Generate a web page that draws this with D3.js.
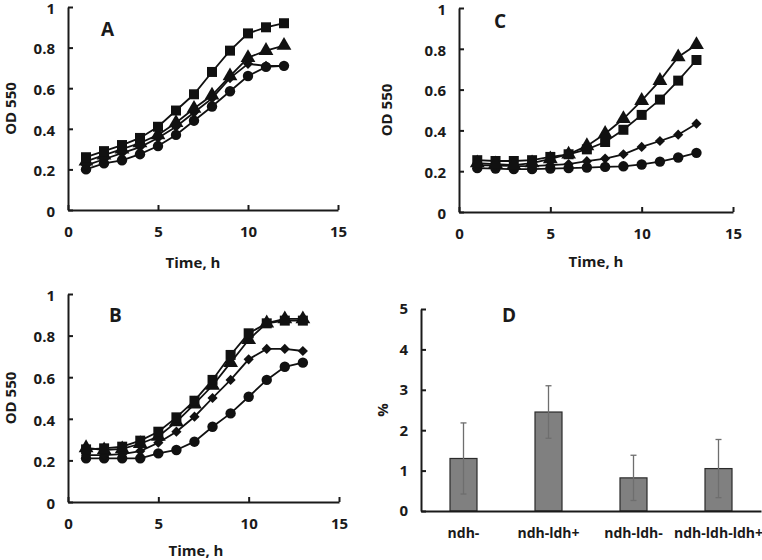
<!DOCTYPE html>
<html lang="en"><head>
<meta charset="utf-8">
<title>OD 550 growth</title>
<script src="https://cdn.jsdelivr.net/npm/d3@7"></script>
<style>
body { margin: 0; background: #fff; }
text { font-family: "Open Sans", sans-serif; font-weight: bold; fill: #1a1a1a; }
</style>
</head>
<body>
<script type="text/javascript">

var width = 762;
var height = 560;

// time points
var hoursA = [1, 2, 3, 4, 5, 6, 7, 8, 9, 10, 11, 12];
var hoursBC = [1, 2, 3, 4, 5, 6, 7, 8, 9, 10, 11, 12, 13];

// panel A
var aSquare   = [0.26, 0.29, 0.32, 0.355, 0.41, 0.49, 0.57, 0.68, 0.785, 0.87, 0.90, 0.92];
var aTriangle = [0.24, 0.27, 0.30, 0.33, 0.37, 0.43, 0.50, 0.565, 0.66, 0.75, 0.785, 0.81];
var aDiamond  = [0.22, 0.25, 0.28, 0.31, 0.355, 0.41, 0.48, 0.55, 0.65, 0.72, 0.71, 0.71];
var aCircle   = [0.20, 0.23, 0.245, 0.275, 0.315, 0.37, 0.44, 0.51, 0.585, 0.66, 0.705, 0.71];

// panel B
var bSquare   = [0.253, 0.258, 0.266, 0.295, 0.338, 0.407, 0.487, 0.587, 0.707, 0.811, 0.859, 0.872, 0.872];
var bTriangle = [0.26, 0.25, 0.255, 0.28, 0.315, 0.385, 0.47, 0.56, 0.67, 0.78, 0.86, 0.88, 0.88];
var bDiamond  = [0.225, 0.225, 0.23, 0.245, 0.285, 0.338, 0.41, 0.50, 0.587, 0.686, 0.736, 0.736, 0.726];
var bCircle   = [0.21, 0.21, 0.21, 0.21, 0.234, 0.25, 0.29, 0.362, 0.426, 0.506, 0.587, 0.65, 0.67];

// panel C
var cSquare   = [0.254, 0.25, 0.25, 0.254, 0.27, 0.283, 0.307, 0.343, 0.403, 0.476, 0.551, 0.644, 0.745];
var cTriangle = [0.24, 0.235, 0.23, 0.24, 0.26, 0.283, 0.324, 0.384, 0.457, 0.546, 0.644, 0.76, 0.82];
var cDiamond  = [0.23, 0.228, 0.225, 0.225, 0.23, 0.235, 0.249, 0.262, 0.283, 0.319, 0.348, 0.379, 0.433];
var cCircle   = [0.215, 0.213, 0.21, 0.21, 0.213, 0.215, 0.218, 0.221, 0.224, 0.233, 0.247, 0.267, 0.29];

// panel D
var strains = ["ndh-", "ndh-ldh+", "ndh-ldh-", "ndh-ldh-ldh+"];
var percent = [1.3, 2.45, 0.82, 1.05];
var percentErr = [0.88, 0.65, 0.56, 0.72];

var xTicks = [0, 5, 10, 15];
var odTicks = [0, 0.2, 0.4, 0.6, 0.8, 1];
var pctTicks = [0, 1, 2, 3, 4, 5];

var svg = d3.select("body").append("svg")
            .attr("width", width)
            .attr("height", height);

var shapes = {
    square: {sym: d3.symbol().type(d3.symbolSquare).size(100), rot: 0},
    triangle: {sym: d3.symbol().type(d3.symbolTriangle).size(95), rot: 0},
    diamond: {sym: d3.symbol().type(d3.symbolSquare).size(52), rot: 45},
    circle: {sym: d3.symbol().type(d3.symbolCircle).size(85), rot: 0}
};

function styleAxis(a) {
    a.select(".domain").attr("stroke", "#1a1a1a").attr("stroke-width", 2);
    a.selectAll(".tick line").attr("stroke", "#1a1a1a").attr("stroke-width", 2);
    a.selectAll(".tick text").style("font-size", "15px").style("font-family", "'Open Sans', sans-serif")
        .style("font-weight", "bold").attr("fill", "#1a1a1a");
}

function growthPanel(opt) {
    var x = d3.scaleLinear().domain([0, 15]).range([opt.x0, opt.x1]);
    var y = d3.scaleLinear().domain([0, 1]).range([opt.y0, opt.y1]);
    var g = svg.append("g");

    var xAxis = g.append("g")
        .attr("transform", "translate(0," + opt.y0 + ")")
        .call(d3.axisBottom(x).tickValues(xTicks).tickSizeInner(-5).tickSizeOuter(0).tickFormat(d3.format("d")));
    var yAxis = g.append("g")
        .attr("transform", "translate(" + opt.x0 + ",0)")
        .call(d3.axisLeft(y).tickValues(odTicks).tickSizeInner(-5).tickSizeOuter(0).tickFormat(function(d){ return d === 0 || d === 1 ? d : d3.format(".1f")(d); }));

    styleAxis(xAxis);
    styleAxis(yAxis);
    xAxis.selectAll(".tick text").attr("y", 16);
    yAxis.selectAll(".tick text").attr("x", -13).attr("dy", "0.42em");

    var line = d3.line().x(function(d){ return x(d[0]); }).y(function(d){ return y(d[1]); });

    opt.series.forEach(function(s) {
        var pts = opt.hours.map(function(h, i){ return [h, s.values[i]]; });
        var shp = shapes[s.shape];
        g.append("path")
            .datum(pts)
            .attr("d", line)
            .attr("fill", "none")
            .attr("stroke", "#111")
            .attr("stroke-width", 1.8);
        g.selectAll(null)
            .data(pts)
            .enter()
            .append("path")
            .attr("d", shp.sym)
            .attr("transform", function(d){ return "translate(" + x(d[0]) + "," + y(d[1]) + ") rotate(" + shp.rot + ")"; })
            .attr("fill", "#111");
    });

    g.append("text")
        .attr("x", opt.letterX).attr("y", opt.letterY)
        .style("font-size", "19px")
        .text(opt.letter);

    g.append("text")
        .attr("transform", "translate(" + opt.yLabelX + "," + ((opt.y0 + opt.y1) / 2) + ") rotate(-90)")
        .attr("text-anchor", "middle")
        .style("font-size", "15px")
        .text("OD 550");

    g.append("text")
        .attr("x", opt.xLabelX).attr("y", opt.xLabelY)
        .attr("text-anchor", "middle")
        .style("font-size", "15px")
        .text("Time, h");
}

growthPanel({
    x0: 68, x1: 338, y0: 210, y1: 7, hours: hoursA,
    letter: "A", letterX: 101, letterY: 36,
    yLabelX: 16, xLabelX: 193, xLabelY: 268,
    series: [
        {shape: "circle", values: aCircle},
        {shape: "diamond", values: aDiamond},
        {shape: "triangle", values: aTriangle},
        {shape: "square", values: aSquare}
    ]
});

growthPanel({
    x0: 459, x1: 733, y0: 212, y1: 8, hours: hoursBC,
    letter: "C", letterX: 494, letterY: 28,
    yLabelX: 392, xLabelX: 596, xLabelY: 267,
    series: [
        {shape: "circle", values: cCircle},
        {shape: "diamond", values: cDiamond},
        {shape: "square", values: cSquare},
        {shape: "triangle", values: cTriangle}
    ]
});

growthPanel({
    x0: 68, x1: 339, y0: 502, y1: 294, hours: hoursBC,
    letter: "B", letterX: 109, letterY: 322,
    yLabelX: 16, xLabelX: 196, xLabelY: 556,
    series: [
        {shape: "circle", values: bCircle},
        {shape: "diamond", values: bDiamond},
        {shape: "triangle", values: bTriangle},
        {shape: "square", values: bSquare}
    ]
});

// panel D: bar chart with error bars
var xD = d3.scaleBand().domain(strains).range([421, 761]).paddingInner(0.68).paddingOuter(0.34);
var yD = d3.scaleLinear().domain([0, 5]).range([511, 309]);
var gD = svg.append("g");

var barW = 27;
gD.selectAll("rect.bar")
    .data(strains)
    .enter()
    .append("rect")
    .attr("class", "bar")
    .attr("x", function(d){ return xD(d) + xD.bandwidth() / 2 - barW / 2; })
    .attr("width", barW)
    .attr("y", function(d, i){ return yD(percent[i]); })
    .attr("height", function(d, i){ return yD(0) - yD(percent[i]); })
    .attr("fill", "#808080")
    .attr("stroke", "#2b2b2b")
    .attr("stroke-width", 1.2);

var err = gD.selectAll("g.err")
    .data(strains)
    .enter()
    .append("g")
    .attr("class", "err")
    .attr("stroke", "#6e6e6e")
    .attr("stroke-width", 1.3);
err.append("line")
    .attr("x1", function(d){ return xD(d) + xD.bandwidth() / 2; })
    .attr("x2", function(d){ return xD(d) + xD.bandwidth() / 2; })
    .attr("y1", function(d, i){ return yD(percent[i] - percentErr[i]); })
    .attr("y2", function(d, i){ return yD(percent[i] + percentErr[i]); });
[-1, 1].forEach(function(sign) {
    err.append("line")
        .attr("x1", function(d){ return xD(d) + xD.bandwidth() / 2 - 3; })
        .attr("x2", function(d){ return xD(d) + xD.bandwidth() / 2 + 3; })
        .attr("y1", function(d, i){ return yD(percent[i] + sign * percentErr[i]); })
        .attr("y2", function(d, i){ return yD(percent[i] + sign * percentErr[i]); });
});

var xAxisD = gD.append("g")
    .attr("transform", "translate(0,511)")
    .call(d3.axisBottom(xD).tickSize(0));
styleAxis(xAxisD);
xAxisD.selectAll(".tick text").attr("y", 17).style("font-size", "14px");

var yAxisD = gD.append("g")
    .attr("transform", "translate(421,0)")
    .call(d3.axisLeft(yD).tickValues(pctTicks).tickSizeInner(-5).tickSizeOuter(0).tickFormat(d3.format("d")));
styleAxis(yAxisD);
yAxisD.selectAll(".tick text").attr("x", -13);

gD.append("text")
    .attr("x", 502).attr("y", 322)
    .style("font-size", "19px")
    .text("D");

gD.append("text")
    .attr("transform", "translate(388,410) rotate(-90)")
    .attr("text-anchor", "middle")
    .style("font-size", "15px")
    .text("%");

</script>
</body></html>
